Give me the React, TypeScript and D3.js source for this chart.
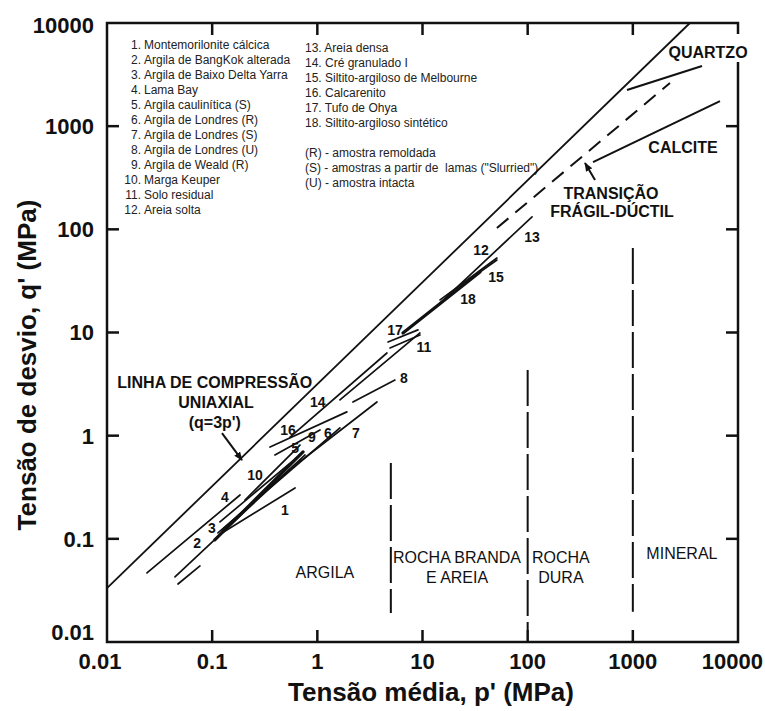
import React from 'react';
import * as d3 from 'd3';

const W = 765;
const H = 711;
const FONT = 'Liberation Sans, Arial, Helvetica, sans-serif';

// axes (log10, MPa)
const pDomain = [0.01, 10000];
const qDomain = [0.01, 10000];
const tickValues = [0.01, 0.1, 1, 10, 100, 1000, 10000];
const tickLabels = ['0.01', '0.1', '1', '10', '100', '1000', '10000'];

// legend
const legendLeft = [
  'Montemorilonite cálcica',
  'Argila de BangKok alterada',
  'Argila de Baixo Delta Yarra',
  'Lama Bay',
  'Argila caulinítica (S)',
  'Argila de Londres (R)',
  'Argila de Londres (S)',
  'Argila de Londres (U)',
  'Argila de Weald (R)',
  'Marga Keuper',
  'Solo residual',
  'Areia solta',
];
const legendRight = [
  'Areia densa',
  'Cré granulado I',
  'Siltito-argiloso de Melbourne',
  'Calcarenito',
  'Tufo de Ohya',
  'Siltito-argiloso sintético',
];
const legendNotes = [
  '(R) - amostra remoldada',
  '(S) - amostras a partir de  lamas ("Slurried")',
  '(U) - amostra intacta',
];

// reference lines [p, q] -> [p, q]
const uniaxialLine = [[0.01, 0.0333], [3490, 10000]];
const transitionLine = [[51, 103], [2255, 2620]];
const quartzLine = [[880, 2240], [4550, 3830]];
const calciteLine = [[418, 449], [6740, 1750]];

// material lines: id, p1, q1, p2, q2
const materialLines: [string, number, number, number, number][] = [
  ['1', 0.124, 0.114, 0.614, 0.311],
  ['2', 0.0443, 0.0427, 0.764, 0.65],
  ['2b', 0.0473, 0.0365, 0.0766, 0.0546],
  ['3', 0.1186, 0.146, 0.684, 0.65],
  ['3b', 0.124, 0.122, 0.684, 0.58],
  ['4', 0.024, 0.0467, 0.184, 0.266],
  ['5', 0.205, 0.238, 0.684, 0.811],
  ['6', 0.1135, 0.114, 1.64, 1.19],
  ['7', 0.587, 0.497, 3.69, 2.12],
  ['8', 2.18, 2.12, 5.47, 3.46],
  ['9', 0.395, 0.65, 1.06, 1.135],
  ['10', 0.106, 0.0976, 0.731, 0.695],
  ['11', 1.64, 2.22, 9.46, 9.9],
  ['12', 14.7, 20.7, 51, 52.7],
  ['13', 14.7, 19.3, 110, 132],
  ['14', 0.55, 0.97, 4.59, 6.33],
  ['15', 35.2, 38.6, 51, 50.4],
  ['16', 0.355, 0.776, 1.91, 1.7],
  ['17', 4.91, 7.08, 9.46, 9.46],
  ['17b', 4.7, 8.09, 9.06, 10.6],
  ['18', 6.52, 9.9, 35.2, 38.6],
];
const heavyLines = ['10', '18'];

// number labels next to the lines: text, p, q
const lineLabels: [string, number, number][] = [
  ['1', 0.492, 0.19],
  ['2', 0.0718, 0.0912],
  ['3', 0.0996, 0.127],
  ['4', 0.132, 0.254],
  ['5', 0.614, 0.759],
  ['6', 1.26, 1.06],
  ['7', 2.33, 1.06],
  ['8', 6.67, 3.62],
  ['9', 0.889, 0.97],
  ['10', 0.255, 0.416],
  ['11', 10.3, 7.23],
  ['12', 36, 63],
  ['13', 110, 84.3],
  ['14', 1.01, 2.12],
  ['15', 50, 34.5],
  ['16', 0.526, 1.135],
  ['17', 5.47, 10.6],
  ['18', 27.1, 21.1],
];

// class boundaries (vertical dashed): p, q top, q bottom
const boundaryP = [5, 100, 1000];
const boundaryTop = [0.543, 4.33, 65.9];
const boundaryBottom = [0.0191, 0.0131, 0.0196];

// region labels: text, p, q
const regionLabels: [string, number, number][] = [
  ['ARGILA', 1.18, 0.0476],
  ['ROCHA BRANDA', 21.3, 0.0667],
  ['E AREIA', 21.3, 0.0427],
  ['ROCHA', 207, 0.0667],
  ['DURA', 207, 0.0427],
  ['MINERAL', 2930, 0.073],
];
// bold annotations: text, p, q
const annotations: [string, number, number][] = [
  ['LINHA DE COMPRESSÃO', 0.106, 3.31],
  ['UNIAXIAL', 0.109, 2.12],
  ["(q=3p')", 0.106, 1.36],
  ['QUARTZO', 5190, 5230],
  ['CALCITE', 3000, 628],
  ['TRANSIÇÃO', 620, 225],
  ['FRÁGIL-DÚCTIL', 634, 151],
];
// arrows: p from, q from, p to, q to
const arrows = [
  [0.124, 1.06, 0.192, 0.58],
  [437, 301, 351, 439],
];

export default function App() {
  const x = d3.scaleLog().domain(pDomain).range([107, 738]);
  const y = d3.scaleLog().domain(qDomain).range([642, 23]);
  const line = d3
    .line<number[]>()
    .x(d => x(d[0]))
    .y(d => y(d[1]));
  const ink = '#111';
  const [x0, x1] = x.range();
  const [y0, y1] = y.range();
  const tickLen = 12;

  return (
    <svg
      width={W}
      height={H}
      style={{ position: 'absolute', left: 0, top: 0, background: '#fff' }}
      fontFamily={FONT}
    >
      <rect width={W} height={H} fill="#fff" />

      {/* frame */}
      <rect x={x0} y={y1} width={x1 - x0} height={y0 - y1} fill="none" stroke={ink} strokeWidth={2.5} />
      {tickValues.slice(1, -1).map(v => (
        <g key={'t' + v} stroke={ink} strokeWidth={2.5}>
          <line x1={x(v)} x2={x(v)} y1={y0} y2={y0 - tickLen} />
          <line x1={x(v)} x2={x(v)} y1={y1} y2={y1 + tickLen} />
          <line x1={x0} x2={x0 + tickLen} y1={y(v)} y2={y(v)} />
          <line x1={x1} x2={x1 - tickLen} y1={y(v)} y2={y(v)} />
        </g>
      ))}

      {/* tick labels */}
      <g fontSize={22} fontWeight="bold" fill={ink}>
        {tickValues.map((v, i) => (
          <text
            key={'xl' + v}
            x={i === tickValues.length - 1 ? W - 2 : x(v) - (i === 0 ? 7 : 0)}
            y={669}
            textAnchor={i === tickValues.length - 1 ? 'end' : 'middle'}
          >
            {tickLabels[i]}
          </text>
        ))}
        {tickValues.map((v, i) => (
          <text key={'yl' + v} x={94} y={y(v) - (i === 0 ? 10 : 0) + (i === tickValues.length - 1 ? 2 : 0)} dy="0.36em" textAnchor="end">
            {tickLabels[i]}
          </text>
        ))}
      </g>

      {/* axis titles */}
      <text x={431} y={701} textAnchor="middle" fontSize={26} fontWeight="bold" fill={ink}>
        Tensão média, p' (MPa)
      </text>
      <text transform="translate(36,365) rotate(-90)" textAnchor="middle" fontSize={26} fontWeight="bold" fill={ink}>
        Tensão de desvio, q' (MPa)
      </text>

      {/* legend */}
      <g fontSize={12} fill="#222">
        {legendLeft.map((t, i) => (
          <text key={'ll' + i} y={45 + i * 15} dy="0.35em">
            <tspan x={141} textAnchor="end">{i + 1 + '.'}</tspan>
            <tspan x={144}>{t}</tspan>
          </text>
        ))}
        {legendRight.map((t, i) => (
          <text key={'lr' + i} x={305} y={48 + i * 15} dy="0.35em">
            {i + 13 + '. ' + t}
          </text>
        ))}
        {legendNotes.map((t, i) => (
          <text key={'ln' + i} x={305} y={153 + i * 15} dy="0.35em" style={{ whiteSpace: 'pre' }}>
            {t}
          </text>
        ))}
      </g>

      {/* class boundaries */}
      {boundaryP.map((p, i) => (
        <line
          key={'b' + p}
          x1={x(p)}
          x2={x(p)}
          y1={y(boundaryTop[i])}
          y2={y(boundaryBottom[i])}
          stroke={ink}
          strokeWidth={2}
          strokeDasharray="36 6"
        />
      ))}

      {/* reference lines */}
      <path d={line(uniaxialLine) || ''} fill="none" stroke={ink} strokeWidth={1.8} />
      <path d={line(transitionLine) || ''} fill="none" stroke={ink} strokeWidth={2} strokeDasharray="15 9" />
      <path d={line(quartzLine) || ''} fill="none" stroke={ink} strokeWidth={2} />
      <path d={line(calciteLine) || ''} fill="none" stroke={ink} strokeWidth={2} />

      {/* material lines */}
      {materialLines.map(([id, p1, q1, p2, q2]) => (
        <path
          key={'m' + id}
          d={line([[p1, q1], [p2, q2]]) || ''}
          fill="none"
          stroke={ink}
          strokeWidth={heavyLines.includes(id) ? 3.2 : 1.7}
          strokeLinecap="round"
        />
      ))}

      {/* arrows */}
      <defs>
        <marker id="ah" viewBox="0 0 10 10" refX="9" refY="5" markerWidth="9" markerHeight="9" orient="auto" markerUnits="userSpaceOnUse">
          <path d="M0,1 L10,5 L0,9 Z" fill={ink} />
        </marker>
      </defs>
      {arrows.map((a, i) => (
        <line
          key={'a' + i}
          x1={x(a[0])}
          y1={y(a[1])}
          x2={x(a[2])}
          y2={y(a[3])}
          stroke={ink}
          strokeWidth={2}
          markerEnd="url(#ah)"
        />
      ))}

      {/* line numbers */}
      <g fontSize={14} fontWeight="bold" fill={ink} textAnchor="middle">
        {lineLabels.map(([t, p, q]) => (
          <text key={'n' + t} x={x(p)} y={y(q)} dy="0.36em">
            {t}
          </text>
        ))}
      </g>

      {/* region labels */}
      <g fontSize={16} fill={ink} textAnchor="middle">
        {regionLabels.map(([t, p, q]) => (
          <text key={'r' + t} x={x(p)} y={y(q)} dy="0.36em">
            {t}
          </text>
        ))}
      </g>

      {/* gap in the right frame behind QUARTZO */}
      <rect x={x1 - 3} y={y1 + 11} width={8} height={28} fill="#fff" />
      <g fontSize={16} fontWeight="bold" fill={ink} textAnchor="middle">
        {annotations.map(([t, p, q]) => (
          <text key={'an' + t} x={x(p)} y={y(q)} dy="0.36em">
            {t}
          </text>
        ))}
      </g>
    </svg>
  );
}
